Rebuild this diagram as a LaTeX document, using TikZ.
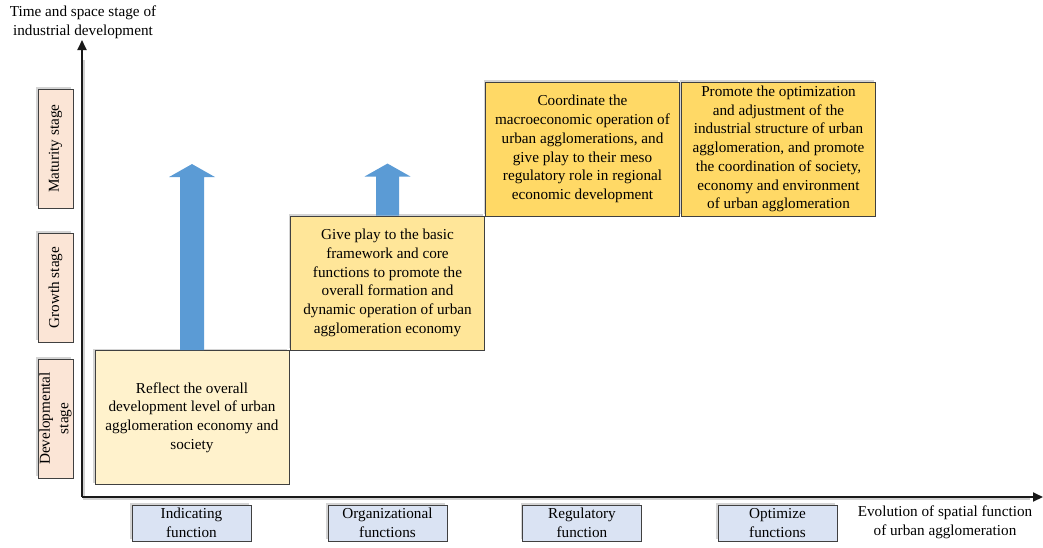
\documentclass[tikz,border=0pt]{standalone}
\usepackage{fontspec}
\setmainfont{Liberation Serif}
\usetikzlibrary{arrows.meta,shadows}

\definecolor{stagefill}{HTML}{FBE5D6}
\definecolor{funcfill}{HTML}{DAE3F3}
\definecolor{levelA}{HTML}{FFF2CC}
\definecolor{levelB}{HTML}{FFE699}
\definecolor{levelC}{HTML}{FFD966}
\definecolor{arrowblue}{HTML}{5B9BD5}
\definecolor{edge}{HTML}{404040}

\begin{document}
\begin{tikzpicture}[x=1pt,y=-1pt,
  txt/.style={font=\fontsize{15.2}{18.7}\selectfont, align=center, inner sep=0pt},
  softshadow/.style={drop shadow={shadow xshift=-2pt, shadow yshift=2pt, opacity=0.28, fill=black!60}},
  roleblock/.style={txt, draw=edge, line width=0.9pt, softshadow, minimum width=194pt, minimum height=134pt},
  stagebox/.style={txt, draw=edge, line width=0.9pt, fill=stagefill, softshadow, rotate=90, minimum height=35pt},
  funcbox/.style={txt, draw=edge, line width=0.9pt, fill=funcfill, softshadow, minimum width=119pt, minimum height=36pt},
  axis/.style={line width=1.8pt, black!90, -{Triangle[length=10pt,width=9pt]}},
  axisshade/.style={line width=2pt, black!18},
  rise/.style={fill=arrowblue}
]
\useasboundingbox (0,0) rectangle (1043,547);

% axes, with a faint shade under the lines
\coordinate (origin) at (82,497);
\coordinate (ytip) at (82,40);
\coordinate (xtip) at (1043,497);
\coordinate (yshade) at (84,60);
\coordinate (xshade) at (1030,499);
\coordinate (oshade) at (84,499);
\draw[axisshade] (yshade) -- (oshade) -- (xshade);
\draw[axis] (origin) -- (ytip);
\draw[axis] (origin) -- (xtip);

\node[txt] (ylabel) at (83,22) {Time and space stage of\\industrial development};
\node[txt] (xlabel) at (945,522) {Evolution of spatial function\\of urban agglomeration};

% stages on the vertical axis
\node[stagebox, minimum width=119pt] (mature) at (55.5,148.5) {Maturity stage};
\node[stagebox, minimum width=109pt] (growth) at (55.5,287.5) {Growth stage};
\node[stagebox, minimum width=119pt] (develop) at (55.5,418.5) {Developmental\\stage};

% functions on the horizontal axis
\node[funcbox] (indicate) at (191.5,523) {Indicating\\function};
\node[funcbox] (organize) at (387.5,523) {Organizational\\functions};
\node[funcbox] (regulate) at (582,523) {Regulatory\\function};
\node[funcbox] (optimize) at (777.5,523) {Optimize\\functions};

% role blocks, stepping up
\node[roleblock, fill=levelA] (r1) at (192,417.5)
  {Reflect the overall\\development level of urban\\agglomeration economy and\\society};
\node[roleblock, fill=levelB] (r2) at (387.5,283)
  {Give play to the basic\\framework and core\\functions to promote the\\overall formation and\\dynamic operation of urban\\agglomeration economy};
\node[roleblock, fill=levelC] (r3) at (582.5,149)
  {Coordinate the\\macroeconomic operation of\\urban agglomerations, and\\give play to their meso\\regulatory role in regional\\economic development};
\node[roleblock, fill=levelC] (r4) at (778.5,149)
  {Promote the optimization\\and adjustment of the\\industrial structure of urban\\agglomeration, and promote\\the coordination of society,\\economy and environment\\of urban agglomeration};

% upward block arrows
\fill[rise] ([xshift=-12pt]r1.north) -- ++(0,-173) -- ++(-11,0) -- ++(23,-13)
  -- ++(23,13) -- ++(-11,0) -- ++(0,173) -- cycle;
\fill[rise] ([xshift=-11.5pt]r2.north) -- ++(0,-39) -- ++(-11.5,0) -- ++(23,-13)
  -- ++(23,13) -- ++(-11.5,0) -- ++(0,39) -- cycle;
\end{tikzpicture}
\end{document}
